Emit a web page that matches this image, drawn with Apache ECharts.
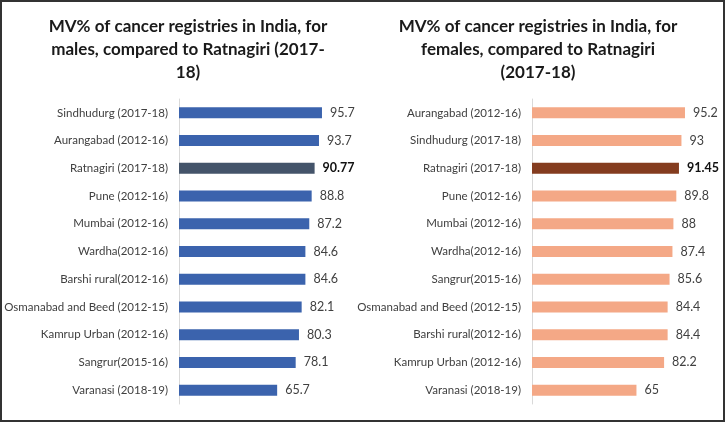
<!DOCTYPE html>
<html>
<head>
<meta charset="utf-8">
<style>
  html, body { margin: 0; padding: 0; background: #fff; }
  #chart { width: 726px; height: 423px; }
</style>
<script src="https://cdn.jsdelivr.net/npm/echarts@6/dist/echarts.min.js"></script>
</head>
<body>
<div id="chart"></div>
<script>
// males panel
const maleCategories = [
  'Sindhudurg (2017-18)', 'Aurangabad (2012-16)', 'Ratnagiri (2017-18)', 'Pune (2012-16)',
  'Mumbai (2012-16)', 'Wardha(2012-16)', 'Barshi rural(2012-16)', 'Osmanabad and Beed (2012-15)',
  'Kamrup Urban (2012-16)', 'Sangrur(2015-16)', 'Varanasi (2018-19)'
];
const maleValues = [95.7, 93.7, 90.77, 88.8, 87.2, 84.6, 84.6, 82.1, 80.3, 78.1, 65.7];

// females panel
const femaleCategories = [
  'Aurangabad (2012-16)', 'Sindhudurg (2017-18)', 'Ratnagiri (2017-18)', 'Pune (2012-16)',
  'Mumbai (2012-16)', 'Wardha(2012-16)', 'Sangrur(2015-16)', 'Osmanabad and Beed (2012-15)',
  'Barshi rural(2012-16)', 'Kamrup Urban (2012-16)', 'Varanasi (2018-19)'
];
const femaleValues = [95.2, 93, 91.45, 89.8, 88, 87.4, 85.6, 84.4, 84.4, 82.2, 65];

const highlightName = 'Ratnagiri';
const FONT = 'Lato, "Open Sans", sans-serif';

// turn values into bar items, highlighting Ratnagiri
function buildData(cats, vals, color, hiColor) {
  return vals.map((v, i) => {
    const hi = cats[i].indexOf(highlightName) === 0;
    return {
      value: v,
      itemStyle: { color: hi ? hiColor : color },
      label: hi ? { fontWeight: 'bold', color: '#111' } : undefined
    };
  });
}

var myChart = echarts.init(document.getElementById('chart'));
var option;

const titleStyle = {
  fontFamily: FONT,
  fontSize: 17,
  fontWeight: 'bold',
  color: '#1a1a1a',
  lineHeight: 23
};

const yAxisCommon = {
  type: 'category',
  inverse: true,
  axisLine: { show: true, lineStyle: { color: '#d9d9d9', width: 1 } },
  axisTick: { show: false },
  axisLabel: { fontFamily: FONT, fontSize: 11.5, color: '#404040', margin: 11 }
};

const xAxisCommon = {
  type: 'value',
  min: 0,
  max: 100,
  show: false
};

const seriesLabel = {
  show: true,
  position: 'right',
  distance: 8,
  fontFamily: FONT,
  fontSize: 12.5,
  color: '#404040'
};

option = {
  backgroundColor: '#fff',
  animation: false,
  title: [
    {
      text: 'MV% of cancer registries in India, for\nmales, compared to Ratnagiri (2017-\n18)',
      left: 188, top: 15, padding: 0, textAlign: 'center',
      textStyle: titleStyle
    },
    {
      text: 'MV% of cancer registries in India, for\nfemales, compared to Ratnagiri\n(2017-18)',
      left: 538, top: 15, padding: 0, textAlign: 'center',
      textStyle: titleStyle
    }
  ],
  grid: [
    { left: 179, top: 99, width: 149.4, height: 305, containLabel: false, outerBoundsMode: 'none' },
    { left: 532, top: 99, width: 160.7, height: 305, containLabel: false, outerBoundsMode: 'none' }
  ],
  xAxis: [
    Object.assign({ gridIndex: 0 }, xAxisCommon),
    Object.assign({ gridIndex: 1 }, xAxisCommon)
  ],
  yAxis: [
    Object.assign({ gridIndex: 0, data: maleCategories }, yAxisCommon),
    Object.assign({ gridIndex: 1, data: femaleCategories }, yAxisCommon)
  ],
  series: [
    {
      name: 'Males',
      type: 'bar',
      xAxisIndex: 0,
      yAxisIndex: 0,
      barWidth: 11,
      label: seriesLabel,
      data: buildData(maleCategories, maleValues, '#3b63ad', '#44546a')
    },
    {
      name: 'Females',
      type: 'bar',
      xAxisIndex: 1,
      yAxisIndex: 1,
      barWidth: 11,
      label: seriesLabel,
      data: buildData(femaleCategories, femaleValues, '#f4a886', '#843c1f')
    }
  ],
  graphic: [
    {
      type: 'rect',
      shape: { x: 1, y: 1, width: 723, height: 420 },
      style: { fill: 'none', stroke: '#333', lineWidth: 2 },
      silent: true
    }
  ]
};

option && myChart.setOption(option);
</script>
</body>
</html>
